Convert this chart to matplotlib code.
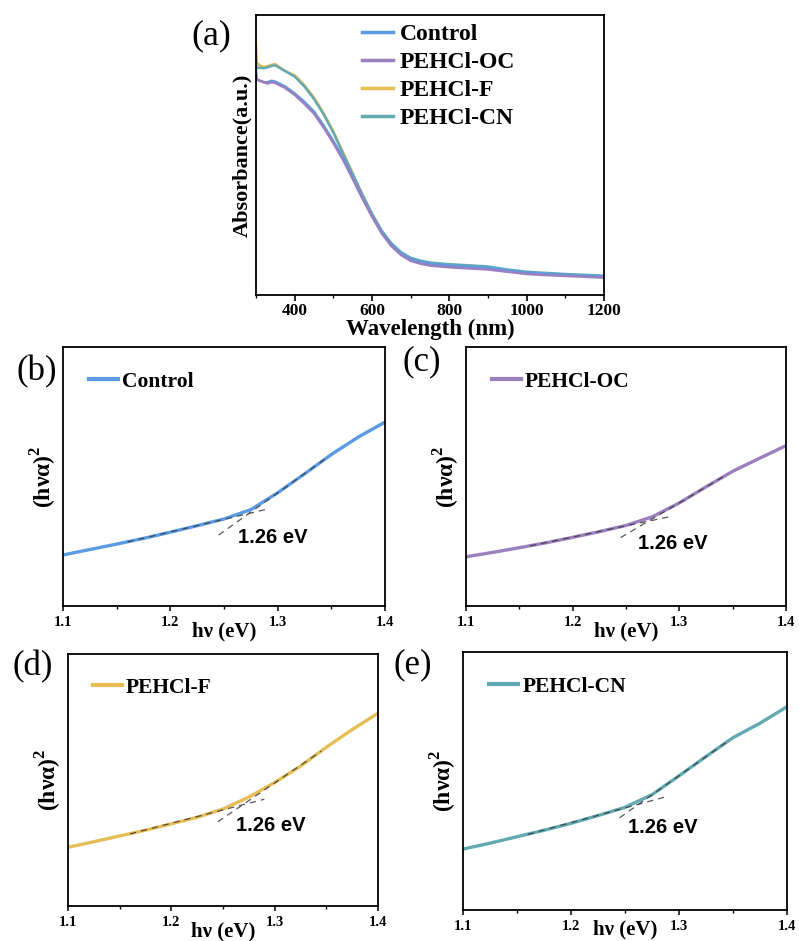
import matplotlib
matplotlib.use("Agg")
import matplotlib.pyplot as plt
import numpy as np
from matplotlib.ticker import MultipleLocator

W, H = 799, 941
SERIF = ['Liberation Serif', 'DejaVu Serif']
SANS = ['Liberation Sans', 'DejaVu Sans']

# ---------------- data ----------------
labels = ["Control", "PEHCl-OC", "PEHCl-F", "PEHCl-CN"]
colors = ["#5B9BE3", "#9C7FBF", "#E6BE55", "#62AAB2"]

wl = [300, 302, 310, 320, 330, 340, 350, 360, 375, 400, 425, 450, 475, 500, 525, 550,
      575, 600, 625, 650, 675, 700, 725, 750, 800, 850, 900, 950, 1000, 1050, 1100, 1150, 1200]
abs_control = [0.80, 0.77, 0.765, 0.76, 0.76, 0.765, 0.762, 0.755, 0.745, 0.72, 0.69, 0.655, 0.605,
               0.55, 0.49, 0.42, 0.35, 0.285, 0.225, 0.18, 0.148, 0.128, 0.118, 0.111, 0.105, 0.101,
               0.097, 0.088, 0.080, 0.076, 0.072, 0.069, 0.066]
abs_oc = [0.79, 0.77, 0.765, 0.76, 0.755, 0.76, 0.757, 0.75, 0.74, 0.715, 0.683, 0.648, 0.598,
          0.543, 0.483, 0.415, 0.345, 0.28, 0.22, 0.175, 0.143, 0.122, 0.112, 0.105, 0.099, 0.095,
          0.091, 0.083, 0.075, 0.071, 0.068, 0.065, 0.062]
abs_f = [0.90, 0.83, 0.82, 0.815, 0.818, 0.822, 0.825, 0.815, 0.80, 0.785, 0.75, 0.705, 0.65,
         0.585, 0.51, 0.435, 0.36, 0.29, 0.228, 0.182, 0.15, 0.13, 0.12, 0.113, 0.107, 0.103,
         0.098, 0.089, 0.081, 0.077, 0.073, 0.070, 0.067]
abs_cn = [0.84, 0.81, 0.812, 0.81, 0.813, 0.818, 0.82, 0.812, 0.80, 0.78, 0.745, 0.70, 0.645,
          0.58, 0.505, 0.432, 0.358, 0.29, 0.23, 0.185, 0.153, 0.133, 0.123, 0.116, 0.110, 0.106,
          0.102, 0.091, 0.083, 0.079, 0.075, 0.072, 0.069]
absorb = [abs_control, abs_oc, abs_f, abs_cn]

hv = [1.100, 1.125, 1.150, 1.175, 1.200, 1.225, 1.250, 1.275, 1.300, 1.325, 1.350, 1.375, 1.400]
tauc_control = [0.197, 0.218, 0.239, 0.261, 0.285, 0.310, 0.336, 0.372, 0.437, 0.510, 0.585, 0.652, 0.710]
tauc_oc = [0.190, 0.207, 0.225, 0.244, 0.265, 0.287, 0.311, 0.345, 0.398, 0.460, 0.520, 0.570, 0.619]
tauc_f = [0.233, 0.255, 0.278, 0.301, 0.326, 0.352, 0.385, 0.432, 0.490, 0.555, 0.630, 0.700, 0.765]
tauc_cn = [0.236, 0.259, 0.284, 0.309, 0.336, 0.366, 0.398, 0.447, 0.520, 0.595, 0.668, 0.724, 0.788]
taucs = [tauc_control, tauc_oc, tauc_f, tauc_cn]

# ranges used for the two linear (tangent) fits and the span drawn for each
low_fit, low_span = (1.15, 1.25), (1.16, 1.29)
up_fit, up_span = (1.30, 1.35), (1.245, 1.345)
gap_text = "1.26 eV"
text_pos = [(1.263, 0.263), (1.261, 0.243), (1.263, 0.321), (1.253, 0.318)]
panel_letters = ["(b)", "(c)", "(d)", "(e)"]

# ---------------- figure ----------------
fig = plt.figure(figsize=(W / 100, H / 100), dpi=100)


def rect(l, t, r, b):
    return [l / W, 1 - b / H, (r - l) / W, (b - t) / H]


def style_ticks(ax, size):
    for lab in ax.get_xticklabels():
        lab.set_fontfamily(SERIF)
        lab.set_fontweight('bold')
        lab.set_fontsize(size)
    for s in ax.spines.values():
        s.set_linewidth(1.3)


# panel (a)
axa = fig.add_axes(rect(256, 15, 604, 295))
draw_order = [2, 3, 0, 1]
handles = {}
for i in draw_order:
    ln, = axa.plot(wl, absorb[i], color=colors[i], lw=1.8, label=labels[i])
    handles[i] = ln
axa.set_xlim(300, 1200)
axa.set_ylim(0.0, 1.0)
axa.set_yticks([])
axa.set_xticks([400, 600, 800, 1000, 1200])
axa.xaxis.set_minor_locator(MultipleLocator(100))
axa.tick_params(axis='x', which='major', direction='out', length=4, width=1.2, pad=1.5)
axa.tick_params(axis='x', which='minor', direction='out', length=2.5, width=1.0)
style_ticks(axa, 12.5)
axa.set_xlabel("Wavelength (nm)", fontfamily=SERIF, fontweight='bold', fontsize=16.5, labelpad=0)
axa.set_ylabel("Absorbance(a.u.)", fontfamily=SERIF, fontweight='bold', fontsize=16, labelpad=3)
leg = axa.legend([handles[i] for i in range(4)], labels, loc='upper left',
                 bbox_to_anchor=(0.305, 0.968), frameon=False,
                 prop={'family': SERIF, 'weight': 'bold', 'size': 17}, handlelength=1.3,
                 handletextpad=0.3, labelspacing=0.27, borderpad=0, borderaxespad=0)
for h in leg.get_lines():
    h.set_linewidth(2.5)
fig.text(211 / W, 1 - 36 / H, "(a)", fontfamily=SERIF, fontsize=26, ha='center', va='center')

# panels b-e
rects = [(63, 347, 385, 606), (466, 347, 786, 606), (68, 654, 378, 906), (463, 652, 787, 910)]
letter_pos = [(37, 372), (422, 362), (33, 667), (413, 665)]
xlab_pad = [-6, -6, -6, -10]
hv_arr = np.array(hv)
for k in range(4):
    ax = fig.add_axes(rect(*rects[k]))
    ax.plot(hv, taucs[k], color=colors[k], lw=2.4, label=labels[k], zorder=2)
    yk = np.array(taucs[k])
    for fit, span in ((low_fit, low_span), (up_fit, up_span)):
        m = (hv_arr >= fit[0] - 1e-9) & (hv_arr <= fit[1] + 1e-9)
        p = np.polyfit(hv_arr[m], yk[m], 1)
        xs = np.array(span)
        ax.plot(xs, np.polyval(p, xs), color='#3a3a3a', lw=0.9, ls=(0, (5, 4)),
                zorder=3, alpha=0.85)
    ax.text(text_pos[k][0], text_pos[k][1], gap_text, fontfamily=SANS, fontweight='bold',
            fontsize=14.5, ha='left', va='center')
    ax.set_xlim(1.1, 1.4)
    ax.set_ylim(0, 1)
    ax.set_yticks([])
    ax.set_xticks([1.1, 1.2, 1.3, 1.4])
    ax.xaxis.set_minor_locator(MultipleLocator(0.05))
    ax.tick_params(axis='x', which='major', direction='out', length=3.5, width=1.1, pad=4)
    ax.tick_params(axis='x', which='minor', direction='out', length=2.5, width=1.0)
    style_ticks(ax, 10.5)
    ax.set_xlabel("hν (eV)", fontfamily=SERIF, fontweight='bold', fontsize=15, labelpad=xlab_pad[k])
    ax.set_ylabel("(hνα)$^\\mathregular{2}$", fontfamily=SERIF, fontweight='bold',
                  fontsize=17, labelpad=3)
    lg = ax.legend(loc='upper left', bbox_to_anchor=(0.08, 0.905), frameon=False,
                   prop={'family': SERIF, 'weight': 'bold', 'size': 15.5}, handlelength=1.35,
                   handletextpad=0.2, borderpad=0, borderaxespad=0)
    for h in lg.get_lines():
        h.set_linewidth(3)
    fig.text(letter_pos[k][0] / W, 1 - letter_pos[k][1] / H, panel_letters[k], fontfamily=SERIF,
             fontsize=25, ha='center', va='center')

fig.savefig("out.png", dpi=100)
